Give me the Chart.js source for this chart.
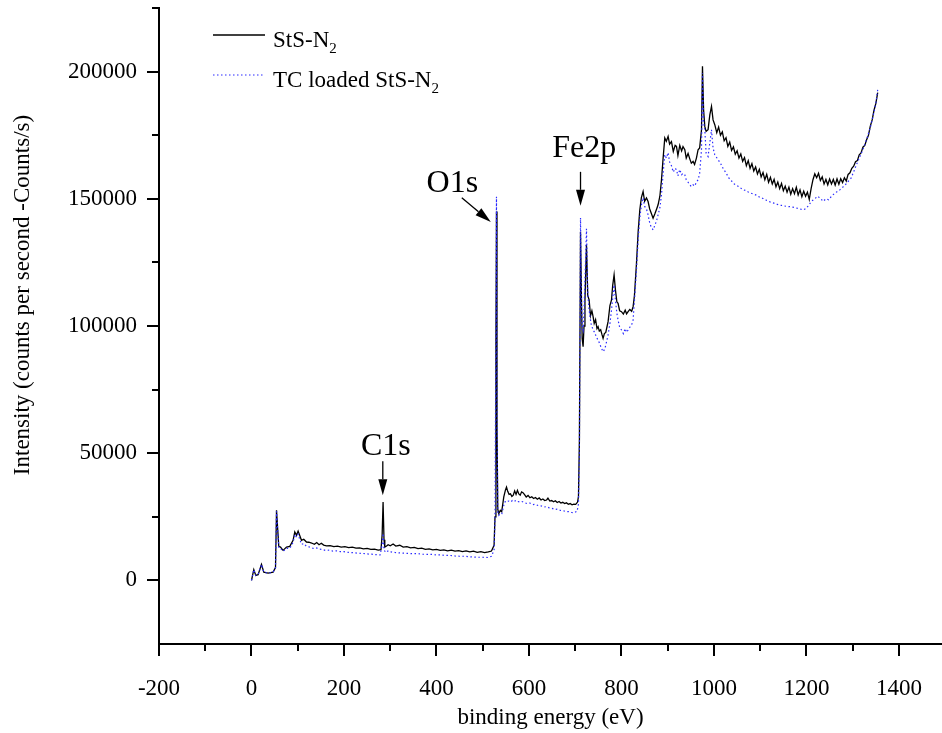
<!DOCTYPE html>
<html>
<head>
<meta charset="utf-8">
<script src="https://cdn.jsdelivr.net/npm/chart.js@4.4.1/dist/chart.umd.min.js"></script>
<style>
  body { margin: 0; background: #fff; }
  #wrap { width: 942px; height: 733px; }
</style>
</head>
<body>
<div id="wrap"><canvas id="xpsChart" width="942" height="733"></canvas></div>
<script>
// XPS survey spectra (binding energy eV / counts per second)
var stsEnergy = [0, 5, 9.3, 14.3, 21.6, 26.6, 35.9, 46.7, 51.9, 54.1, 56.8, 59, 62.7, 68.3, 75.7, 82.8, 89.9, 93.6, 97.3, 100.8,
  108.1, 113, 118.9, 124, 130, 136, 141, 146, 151, 156, 162, 170, 178, 186, 194, 202, 210, 218, 226, 234, 242, 250, 258, 266, 274, 280,
  282.5, 284.5, 286.5, 288.2, 292, 295.4, 300, 306.2, 312, 320.6, 328, 336, 344, 352, 360, 368, 376, 384, 392, 400, 408, 416, 424, 432,
  440, 448, 456, 464, 472, 480, 488, 496, 504, 512, 518.9, 524.5, 526.5, 528.5, 529.7, 530.8, 532.5, 534.7,
  538, 541, 545.5, 549, 551.4, 554, 557, 560, 563, 566, 569, 572, 575, 578, 581, 584, 587, 590, 594, 598, 602, 606, 610, 614, 618, 622,
  626, 630, 634, 638, 641, 645, 649, 653, 657, 661, 665, 669, 673, 677, 681, 685, 689, 693, 697, 701, 705, 707, 709, 711.4,
  713.5, 715, 717, 719, 721, 724.3, 727, 730, 733, 736, 738.6, 741, 744, 747, 749.4, 752, 755, 758, 760.2, 763, 766, 769, 771, 775, 778.4,
  781, 784, 787, 790, 792.6, 796, 800, 804, 808, 811, 814.3, 818, 822, 825.1, 828, 832.4, 836, 839.6, 843, 846.7, 850, 854, 857.5, 861,
  864, 868.3, 872, 876, 879.1, 883, 886.5, 890, 893.6, 897, 900.8, 904, 908, 912, 916, 918.9, 922, 926, 930, 933, 936.9, 940, 944, 948,
  951, 954.8, 958, 962, 965.6, 969, 973, 975.1, 977.5, 980.1, 983, 987.2, 991, 994.6, 998, 1001.7,
  1006, 1010, 1014, 1018, 1022, 1026, 1030, 1034, 1038, 1042, 1046, 1050, 1054, 1058, 1062, 1066, 1070, 1074, 1078, 1082, 1086, 1090,
  1094, 1098, 1102, 1106, 1110, 1114, 1118, 1122, 1126, 1130, 1134, 1138, 1142, 1146, 1150, 1154, 1158, 1162, 1166, 1170, 1174, 1178,
  1182, 1186, 1190, 1194, 1198, 1202, 1206, 1210, 1214, 1218, 1222, 1226, 1230, 1234, 1238, 1242, 1246, 1250, 1254, 1258, 1262, 1266,
  1270, 1274, 1278, 1282, 1286, 1290, 1294, 1298, 1302, 1306, 1310, 1314, 1318, 1322, 1326, 1330, 1334, 1338, 1342, 1346, 1350, 1354];
var stsCounts = [0, 4213, 1969, 2244, 6299, 3268, 2874, 3268, 5000, 27559, 19685, 13386, 13110, 11811, 13110, 13386, 15748, 19016, 17717, 19410,
  15748, 16200, 15079, 15000, 14700, 14200, 14900, 14000, 14600, 13900, 13600, 13700, 13300, 13500, 13100, 13300, 12900, 13100, 12700, 12800, 12400, 12600, 12200, 12300, 11900, 12100,
  18000, 30800, 16000, 13110, 13500, 14000, 13600, 14300, 13500, 13800, 13100, 13300, 12800, 13000, 12500, 12700, 12200, 12400, 12000, 12200, 11800, 12000, 11600, 11900,
  11500, 11700, 11300, 11600, 11200, 11500, 11000, 11300, 10900, 11200, 11535, 13780, 25000, 95000, 145000, 60000, 28000, 26260,
  27500, 27000, 32800, 35500, 36700, 35000, 33800, 34000, 33000, 33500, 35200, 33800, 35400, 34000, 33500, 34800, 34500, 33800, 32800, 33400, 32500, 32900, 32200, 32600, 31900, 32400,
  31600, 32000, 31400, 31600, 32300, 31200, 31400, 30900, 31300, 30600, 31000, 30400, 30700, 30200, 30500, 29900, 30200, 29700, 30000, 29900, 30800, 33000, 55000, 137000,
  110000, 95000, 91850, 100000, 110000, 131890, 112000, 110236, 104000, 106000, 103660, 101000, 102500, 99000, 99724, 98000, 98500, 96500, 95159, 97000, 97500, 100000, 101693, 108000, 110236,
  116000, 120079, 114000, 109500, 108937, 106000, 105630, 104700, 106200, 104800, 105630, 106500, 105800, 107598, 112000, 124685, 137000, 145669, 150500, 152874, 149000, 150300, 148937, 146000,
  144500, 142402, 144000, 146000, 147638, 151000, 157480, 166000, 173898, 172600, 174528, 171500, 172500, 168600, 171000, 170590, 167000, 171000, 168800, 170500, 169291, 166000, 167800, 165500,
  164000, 164685, 163500, 166000, 169291, 170000, 177165, 202087, 185000, 178465, 176500, 177165, 183000, 186340, 181000, 179134,
  176000, 178200, 175000, 176300, 172800, 174000, 170600, 172300, 169000, 170400, 167500, 168900, 166000, 167600, 164700, 166200, 163000, 165000, 162000, 163800, 160900, 162500,
  159800, 161600, 158600, 160300, 157500, 159600, 156500, 158400, 155800, 157600, 154700, 156600, 154000, 156000, 153200, 155000, 152600, 154600, 151800, 154000, 152000, 154500,
  151500, 153500, 150800, 153000, 151000, 152600, 149800, 154000, 157500, 159800, 158300, 160000, 157200, 158600, 155800, 157600, 155500, 157800, 155800, 157600, 155400, 157800,
  155700, 157900, 156400, 158300, 157000, 159600, 160200, 162000, 162800, 164600, 165000, 167300, 168000, 170300, 171000, 173200, 175000, 178600, 181000, 184800, 187500, 191700];

var tcEnergy = [0, 5, 9.3, 14.3, 21.6, 26.6, 35.9, 46.7, 51.9, 54.1, 56.8, 59, 62.7, 68.3, 75.7, 82.8, 89.9, 93.6, 97.3, 100.8,
  108.1, 113, 118.9, 126, 133.2, 140, 146, 152, 160, 168, 176, 184, 192, 200, 210, 220, 230, 240, 250, 260, 270, 278,
  282.5, 284.5, 286.5, 290, 296, 302, 310, 320, 330, 340, 350, 360, 370, 380, 390, 400, 410, 420, 430, 440, 450, 460, 470, 480, 490, 500, 510,
  518.9, 524.5, 526.5, 528.5, 529.7, 530.8, 532.5, 534.7,
  538, 541, 545.5, 549, 552, 556, 560, 564, 568, 572, 576, 580, 585, 590, 596, 602, 608, 614, 620, 626, 632, 638, 644, 650, 656, 662, 668,
  674, 680, 686, 692, 698, 704, 707, 709, 711.4,
  713.5, 715, 717, 719, 721, 724.3, 727, 730, 734, 738.6, 742, 746, 749.4, 753, 756, 760.2, 764, 768, 771, 775, 778.4, 781, 784, 787, 790,
  792.6, 796, 800, 804, 808, 811, 814.3, 818, 822, 825.1, 828, 832.4, 836, 839.6, 843, 846.7, 850, 854, 857.5, 861, 864, 868.3, 872, 876,
  879.1, 883, 886.5, 890, 893.6, 897, 900.8, 904, 908, 912, 916, 918.9, 922, 926, 930, 933, 936.9, 940, 944, 948, 951, 954.8, 958, 962,
  965.6, 969, 973, 975.1, 977.5, 980.1, 983, 987.2, 991, 994.6, 998, 1001.7,
  1008, 1014, 1020, 1026, 1032, 1038, 1044, 1050, 1056, 1062, 1068, 1074, 1080, 1086, 1092, 1098, 1104, 1110, 1116, 1122, 1128, 1134,
  1140, 1146, 1152, 1158, 1164, 1170, 1176, 1182, 1188, 1194, 1200, 1206, 1212, 1218, 1224, 1230, 1236, 1242, 1248, 1254, 1260, 1266,
  1272, 1278, 1284, 1290, 1296, 1302, 1308, 1314, 1320, 1326, 1332, 1338, 1344, 1350, 1354];
var tcCounts = [0, 4213, 1969, 2244, 6299, 3268, 2874, 3268, 5000, 27165, 19291, 12992, 12598, 11417, 12598, 12598, 14961, 18110, 16929, 18110,
  14173, 14500, 13386, 13100, 12598, 12800, 12300, 12200, 11800, 11900, 11500, 11600, 11300, 11300, 11000, 10900, 10700, 10600, 10400, 10300, 10100, 10000,
  14000, 18500, 12000, 11000, 11700, 11200, 11000, 10800, 10700, 10600, 10500, 10500, 10300, 10200, 10200, 10000, 10000, 9800, 9800, 9600, 9500, 9500, 9300, 9200, 9100, 9100, 9000,
  9449, 12000, 24000, 100000, 150800, 65000, 27000, 25590,
  26200, 26000, 29500, 31200, 31000, 31200, 30800, 31400, 31000, 31500, 31000, 30800, 31000, 30600, 30200, 30400, 29800, 29900, 29400, 29300, 28800, 29000, 28500, 28300, 27900, 28000, 27500,
  27400, 27000, 27000, 26700, 26600, 27200, 30000, 52000, 142520,
  108000, 100000, 98425, 106000, 118000, 138189, 113000, 106300, 101000, 98425, 97500, 95500, 94488, 93000, 91500, 89882, 91000, 94000, 96457, 101000, 106299, 111000, 116141, 110000, 105000,
  102362, 99500, 98425, 97000, 99000, 97500, 98425, 99500, 100500, 102362, 110000, 122047, 134000, 142520, 147500, 150394, 147000, 146000, 143700, 140500, 139000, 137795, 139500, 141500,
  143700, 146500, 151575, 160000, 167322, 166000, 168110, 164500, 163000, 160500, 162000, 161417, 159000, 161500, 159500, 160000, 159449, 157500, 156500, 155500, 154800, 155512, 155000, 156500,
  157480, 160000, 169291, 199488, 180000, 177165, 168000, 166654, 172000, 177165, 170000, 167300,
  165600, 164000, 161800, 160200, 158200, 157000, 155800, 155200, 154500, 153600, 153300, 152700, 152200, 151800, 151400, 150700, 150300, 149600, 149300, 148700, 148400, 148000,
  147600, 147400, 147200, 147000, 146900, 146700, 146500, 146200, 145900, 145700, 146300, 147800, 149200, 150000, 151000, 150200, 149000, 150000, 149600, 151000, 152000, 152800,
  153500, 154500, 155500, 156800, 158000, 160600, 163400, 166000, 168500, 171300, 174500, 178000, 182500, 187500, 192900];

var xTickLabels = [-200, 0, 200, 400, 600, 800, 1000, 1200, 1400];
var xMinorTicks = [-100, 100, 300, 500, 700, 900, 1100, 1300];
var yTickLabels = [0, 50000, 100000, 150000, 200000];
var yMinorTicks = [25000, 75000, 125000, 175000, 225000];

var seriesNames = ['StS-N', 'TC loaded StS-N'];
var peakLabels = ['C1s', 'O1s', 'Fe2p'];
// label anchor (eV, counts) and arrow from/to (eV, counts)
var peakLabelAt = [[290.4, 49200], [434.2, 152760], [719.6, 166500]];
var peakArrowFrom = [[283.9, 46850], [454.7, 150400], [711.4, 160600]];
var peakArrowTo = [[283.9, 33460], [517.4, 140900], [711.4, 147250]];

var serif = '"Liberation Serif", "Times New Roman", serif';
var blue = '#2a2aff';

function toPoints(xs, ys) {
  return xs.map(function (x, i) { return { x: x, y: ys[i] }; });
}

// keep tick labels from pushing the plot box around
function noScalePadding(scale) {
  scale.paddingTop = 0;
  scale.paddingBottom = 0;
  scale.paddingLeft = 0;
  scale.paddingRight = 0;
}

var extras = {
  id: 'extras',
  afterDraw: function (chart) {
    var ctx = chart.ctx, xs = chart.scales.x, ys = chart.scales.y, area = chart.chartArea;
    ctx.save();
    ctx.strokeStyle = '#000';
    ctx.fillStyle = '#000';
    ctx.lineWidth = 2;

    // tick marks, outward
    ctx.beginPath();
    xTickLabels.forEach(function (v) { var p = Math.round(xs.getPixelForValue(v)); ctx.moveTo(p, area.bottom); ctx.lineTo(p, area.bottom + 12); });
    xMinorTicks.forEach(function (v) { var p = Math.round(xs.getPixelForValue(v)); ctx.moveTo(p, area.bottom); ctx.lineTo(p, area.bottom + 7); });
    yTickLabels.forEach(function (v) { var p = Math.round(ys.getPixelForValue(v)); ctx.moveTo(area.left, p); ctx.lineTo(area.left - 12, p); });
    yMinorTicks.forEach(function (v) { var p = Math.round(ys.getPixelForValue(v)); ctx.moveTo(area.left, p); ctx.lineTo(area.left - 7, p); });
    ctx.stroke();

    // y axis title
    ctx.save();
    ctx.translate(23, 295);
    ctx.rotate(-Math.PI / 2);
    ctx.font = '23px ' + serif;
    ctx.textAlign = 'center';
    ctx.textBaseline = 'middle';
    ctx.fillText('Intensity (counts per second -Counts/s)', 0, 0);
    ctx.restore();

    // legend
    var legY = [35, 75];
    ctx.textAlign = 'left';
    ctx.textBaseline = 'alphabetic';
    seriesNames.forEach(function (name, i) {
      ctx.save();
      ctx.beginPath();
      ctx.lineWidth = i === 0 ? 1.3 : 1.2;
      ctx.strokeStyle = i === 0 ? '#000' : blue;
      ctx.setLineDash(i === 0 ? [] : [1.5, 2.5]);
      ctx.moveTo(213, legY[i]);
      ctx.lineTo(265, legY[i]);
      ctx.stroke();
      ctx.restore();
      ctx.font = '23px ' + serif;
      ctx.fillText(name, 273, legY[i] + 12);
      var w = ctx.measureText(name).width;
      ctx.font = '15px ' + serif;
      ctx.fillText('2', 273 + w, legY[i] + 18);
    });

    // peak labels and arrows
    ctx.font = '32px ' + serif;
    ctx.textAlign = 'center';
    peakLabels.forEach(function (txt, i) {
      ctx.fillText(txt, xs.getPixelForValue(peakLabelAt[i][0]), ys.getPixelForValue(peakLabelAt[i][1]));
      var x1 = xs.getPixelForValue(peakArrowFrom[i][0]), y1 = ys.getPixelForValue(peakArrowFrom[i][1]);
      var x2 = xs.getPixelForValue(peakArrowTo[i][0]), y2 = ys.getPixelForValue(peakArrowTo[i][1]);
      var a = Math.atan2(y2 - y1, x2 - x1), len = 16, hw = 4.5;
      var bx = x2 - len * Math.cos(a), by = y2 - len * Math.sin(a);
      ctx.beginPath();
      ctx.lineWidth = 1.3;
      ctx.moveTo(x1, y1);
      ctx.lineTo(bx, by);
      ctx.stroke();
      ctx.beginPath();
      ctx.moveTo(x2, y2);
      ctx.lineTo(bx + hw * Math.sin(a), by - hw * Math.cos(a));
      ctx.lineTo(bx - hw * Math.sin(a), by + hw * Math.cos(a));
      ctx.closePath();
      ctx.fill();
    });
    ctx.restore();
  }
};

var ctx = document.getElementById('xpsChart');
var xpsChart = new Chart(ctx, {
  type: 'line',
  data: {
    datasets: [{
      label: 'StS-N2',
      data: toPoints(stsEnergy, stsCounts),
      borderColor: '#000',
      borderWidth: 1.3,
      pointRadius: 0,
      tension: 0,
      order: 2
    }, {
      label: 'TC loaded StS-N2',
      data: toPoints(tcEnergy, tcCounts),
      borderColor: blue,
      borderWidth: 1.2,
      borderDash: [1.5, 2.5],
      pointRadius: 0,
      tension: 0,
      order: 1
    }]
  },
  options: {
    responsive: false,
    animation: false,
    layout: { padding: { top: 8, right: 0, bottom: 0, left: 0 } },
    plugins: {
      legend: { display: false },
      tooltip: { enabled: false }
    },
    scales: {
      x: {
        type: 'linear',
        min: -200,
        max: 1493,
        grid: { display: false, drawTicks: false },
        border: { display: true, color: '#000', width: 2 },
        afterBuildTicks: function (scale) {
          scale.ticks = xTickLabels.map(function (v) { return { value: v }; });
        },
        afterFit: function (scale) { scale.height = 89; noScalePadding(scale); },
        ticks: {
          color: '#000',
          padding: 31,
          maxRotation: 0,
          font: { family: serif, size: 23 },
          callback: function (v) { return String(v); }
        },
        title: {
          display: true,
          text: 'binding energy (eV)',
          color: '#000',
          font: { family: serif, size: 23 },
          padding: { top: 0, bottom: 1 }
        }
      },
      y: {
        min: -25000,
        max: 225000,
        grid: { display: false, drawTicks: false },
        border: { display: true, color: '#000', width: 2 },
        afterBuildTicks: function (scale) {
          scale.ticks = yTickLabels.map(function (v) { return { value: v }; });
        },
        afterFit: function (scale) { scale.width = 159; noScalePadding(scale); },
        ticks: {
          color: '#000',
          padding: 22,
          font: { family: serif, size: 23 },
          callback: function (v) { return String(v); }
        }
      }
    }
  },
  plugins: [extras]
});
</script>
</body>
</html>
